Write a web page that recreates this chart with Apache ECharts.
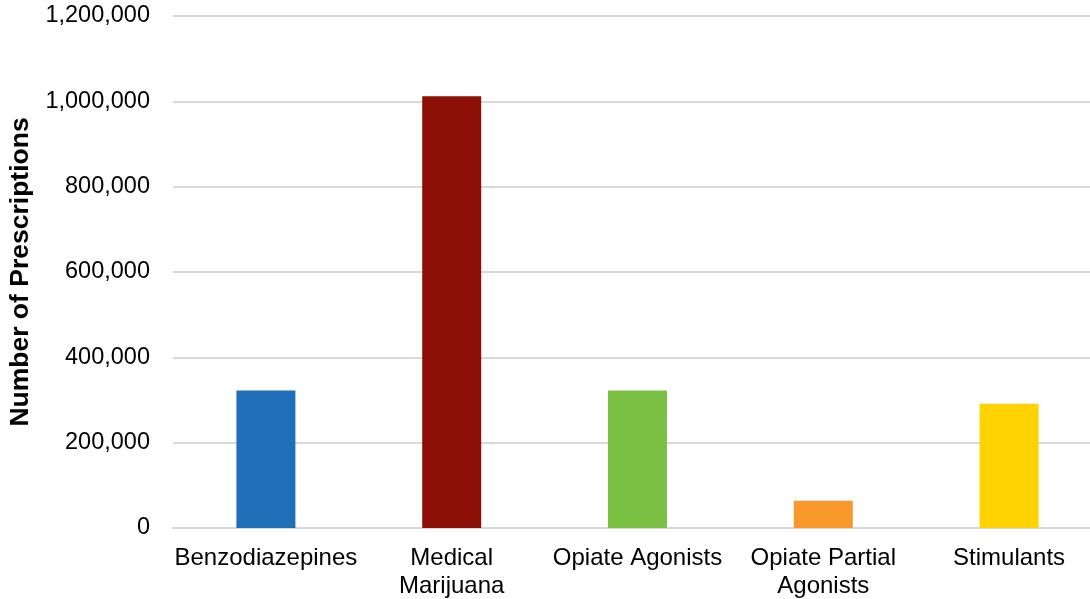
<!DOCTYPE html>
<html>
<head>
<meta charset="utf-8">
<script src="https://cdn.jsdelivr.net/npm/echarts@6/dist/echarts.min.js"></script>
<style>
html,body{margin:0;padding:0;background:#fff;overflow:hidden;}
#chart{width:1090px;height:599px;}
</style>
</head>
<body>
<div id="chart"></div>
<script>
const categories = ['Benzodiazepines', 'Medical Marijuana', 'Opiate Agonists', 'Opiate Partial Agonists', 'Stimulants'];
const categoryTickLabels = ['Benzodiazepines', 'Medical\nMarijuana', 'Opiate Agonists', 'Opiate Partial\nAgonists', 'Stimulants'];
const prescriptions = [322000, 1012000, 322000, 64000, 291000];
const barColors = ['#1F6FB8', '#8B0F05', '#7AC143', '#F8982A', '#FFD201'];
const yTicks = [0, 200000, 400000, 600000, 800000, 1000000, 1200000];
const yAxisTitle = 'Number of Prescriptions';

const chart = echarts.init(document.getElementById('chart'));
const font = '"Liberation Sans", Arial, sans-serif';
chart.setOption({
  animation: false,
  backgroundColor: '#ffffff',
  grid: { left: 173, right: -12, top: 16, bottom: 71, containLabel: false, outerBoundsMode: 'none' },
  xAxis: {
    type: 'category',
    data: categories,
    axisLine: { show: true, lineStyle: { color: '#d9d9d9', width: 2 } },
    axisTick: { show: false },
    axisLabel: {
      interval: 0,
      margin: 16,
      color: '#000000',
      fontFamily: font,
      fontSize: 24,
      lineHeight: 28,
      formatter: (v, i) => categoryTickLabels[i]
    }
  },
  yAxis: {
    type: 'value',
    min: yTicks[0],
    max: yTicks[yTicks.length - 1],
    interval: yTicks[1] - yTicks[0],
    name: yAxisTitle,
    nameLocation: 'middle',
    nameGap: 134,
    nameTextStyle: { color: '#000000', fontFamily: font, fontSize: 26.5, fontWeight: 'bold' },
    axisLine: { show: false },
    axisTick: { show: false },
    splitLine: { show: true, lineStyle: { color: '#d9d9d9', width: 2 } },
    axisLabel: {
      margin: 23,
      color: '#000000',
      fontFamily: font,
      fontSize: 23.5,
      formatter: v => v.toLocaleString('en-US')
    }
  },
  series: [{
    type: 'bar',
    data: prescriptions.map((v, i) => ({ value: v, itemStyle: { color: barColors[i] } })),
    barWidth: 59
  }]
});
</script>
</body>
</html>
